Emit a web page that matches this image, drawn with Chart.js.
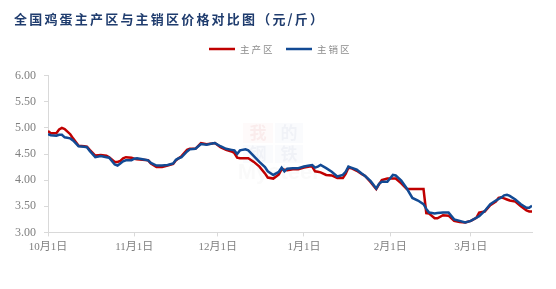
<!DOCTYPE html>
<html>
<head>
<meta charset="utf-8">
<script src="https://cdn.jsdelivr.net/npm/chart.js@4.4.1/dist/chart.umd.min.js"></script>
<style>
  html, body { margin: 0; padding: 0; background: #ffffff; }
  #wrap { width: 556px; height: 289px; position: relative; }
</style>
</head>
<body>
<div id="wrap"><canvas id="priceChart" width="556" height="289"></canvas></div>
<script>
// Day offsets from 2023-10-01 (daily egg prices, yuan/jin)
const days = [0, 1, 3, 4, 5, 6, 8, 9, 11, 13, 14, 15, 17, 19, 21, 22, 24, 25, 26, 27, 28, 30, 31, 32, 34, 36, 37, 39, 41, 43, 45, 46, 47, 48, 50, 51, 53, 55, 57, 59, 60, 62, 64, 66, 67, 68, 69, 71, 72, 74, 76, 78, 79, 81, 83, 84, 85, 86, 88, 90, 92, 94, 95, 96, 97, 98, 100, 102, 104, 106, 107, 108, 109, 111, 113, 114, 116, 118, 119, 120, 122, 124, 125, 127, 129, 131, 133, 135, 136, 137, 139, 140, 142, 144, 146, 148, 150, 152, 154, 155, 157, 159, 161, 162, 163, 164, 165, 166, 168, 170, 172, 173, 174];

// 主产区
const producingPrices = [4.94, 4.90, 4.90, 4.97, 5.00, 4.98, 4.88, 4.80, 4.66, 4.65, 4.64, 4.58, 4.47, 4.48, 4.47, 4.44, 4.35, 4.35, 4.37, 4.42, 4.44, 4.43, 4.41, 4.40, 4.39, 4.38, 4.32, 4.25, 4.25, 4.28, 4.31, 4.38, 4.42, 4.46, 4.58, 4.60, 4.60, 4.71, 4.69, 4.70, 4.71, 4.63, 4.58, 4.55, 4.52, 4.43, 4.42, 4.42, 4.42, 4.35, 4.26, 4.13, 4.05, 4.03, 4.11, 4.21, 4.20, 4.19, 4.21, 4.21, 4.24, 4.26, 4.26, 4.17, 4.16, 4.15, 4.10, 4.09, 4.04, 4.04, 4.12, 4.24, 4.23, 4.18, 4.11, 4.08, 3.96, 3.83, 3.92, 4.00, 4.03, 4.03, 4.03, 3.94, 3.83, 3.83, 3.83, 3.83, 3.37, 3.36, 3.27, 3.27, 3.33, 3.32, 3.22, 3.20, 3.19, 3.22, 3.28, 3.38, 3.40, 3.52, 3.59, 3.66, 3.67, 3.65, 3.63, 3.61, 3.59, 3.50, 3.42, 3.40, 3.40];

// 主销区
const sellingPrices = [4.88, 4.86, 4.85, 4.87, 4.87, 4.82, 4.80, 4.76, 4.65, 4.64, 4.63, 4.56, 4.44, 4.46, 4.44, 4.43, 4.30, 4.28, 4.32, 4.36, 4.38, 4.38, 4.41, 4.42, 4.40, 4.38, 4.33, 4.28, 4.28, 4.29, 4.32, 4.39, 4.42, 4.44, 4.55, 4.59, 4.60, 4.69, 4.68, 4.70, 4.71, 4.65, 4.60, 4.58, 4.57, 4.50, 4.57, 4.59, 4.57, 4.46, 4.35, 4.25, 4.17, 4.10, 4.16, 4.24, 4.17, 4.22, 4.23, 4.23, 4.26, 4.28, 4.29, 4.24, 4.26, 4.29, 4.23, 4.16, 4.07, 4.10, 4.16, 4.26, 4.24, 4.20, 4.12, 4.08, 3.98, 3.84, 3.93, 3.97, 3.97, 4.10, 4.09, 3.99, 3.84, 3.66, 3.61, 3.54, 3.45, 3.38, 3.36, 3.37, 3.38, 3.38, 3.25, 3.22, 3.19, 3.22, 3.28, 3.31, 3.41, 3.54, 3.61, 3.64, 3.67, 3.71, 3.72, 3.70, 3.63, 3.54, 3.47, 3.47, 3.51];

const monthTicks = [0, 31, 61, 92, 123, 152];
const monthLabels = ['10月1日', '11月1日', '12月1日', '1月1日', '2月1日', '3月1日'];

const seriesNames = ['主产区', '主销区'];
const seriesColors = ['#C00000', '#124A94'];
const titleText = '全国鸡蛋主产区与主销区价格对比图（元/斤）';

const toPoints = (vals) => days.map((d, i) => ({ x: d, y: vals[i] }));

// title, legend and the faint watermark are painted by hand
const headerPlugin = {
    id: 'header',
    beforeDatasetsDraw(chart) {
        const ctx = chart.ctx;
        ctx.save();
        ctx.fillStyle = 'rgba(230, 150, 150, 0.05)';
        ctx.fillRect(243, 123, 30, 20);
        ctx.fillStyle = 'rgba(150, 170, 210, 0.05)';
        ctx.fillRect(275, 123, 28, 20);
        ctx.fillRect(243, 145, 30, 18);
        ctx.fillRect(275, 145, 28, 18);
        ctx.font = 'bold 17px "Noto Sans CJK SC"';
        ctx.textAlign = 'center';
        ctx.textBaseline = 'middle';
        ctx.fillStyle = 'rgba(200, 60, 60, 0.07)';
        ctx.fillText('我', 258, 133);
        ctx.fillStyle = 'rgba(60, 80, 140, 0.05)';
        ctx.fillText('的', 289, 133);
        ctx.fillText('钢', 258, 154);
        ctx.fillText('铁', 289, 154);
        ctx.font = 'bold 22px "Liberation Sans"';
        ctx.fillStyle = 'rgba(120, 120, 120, 0.035)';
        ctx.fillText('Mysteel', 278, 173);
        ctx.restore();
    },
    afterDraw(chart) {
        const ctx = chart.ctx;
        ctx.save();
        ctx.textBaseline = 'middle';
        ctx.textAlign = 'left';
        ctx.font = 'bold 13px "Noto Sans CJK SC"';
        ctx.letterSpacing = '2.2px';
        ctx.fillStyle = '#1F3C6E';
        ctx.fillText(titleText, 14, 19.5);

        // legend
        const items = [
            { name: seriesNames[0], color: seriesColors[0], x: 209 },
            { name: seriesNames[1], color: seriesColors[1], x: 286 }
        ];
        ctx.font = '9.5px "Noto Sans CJK SC"';
        ctx.letterSpacing = '2px';
        items.forEach(item => {
            ctx.strokeStyle = item.color;
            ctx.lineWidth = 2.5;
            ctx.beginPath();
            ctx.moveTo(item.x, 49);
            ctx.lineTo(item.x + 26, 49);
            ctx.stroke();
            ctx.fillStyle = '#8c8c8c';
            ctx.fillText(item.name, item.x + 31, 49);
        });
        ctx.restore();
    }
};

const ctx = document.getElementById('priceChart').getContext('2d');

new Chart(ctx, {
    type: 'line',
    data: {
        // 主销区 first so it is painted on top, legend is drawn by the plugin
        datasets: [
            {
                label: seriesNames[1],
                data: toPoints(sellingPrices),
                borderColor: seriesColors[1],
                borderWidth: 2.5,
                pointRadius: 0,
                tension: 0,
                fill: false
            },
            {
                label: seriesNames[0],
                data: toPoints(producingPrices),
                borderColor: seriesColors[0],
                borderWidth: 2.5,
                pointRadius: 0,
                tension: 0,
                fill: false
            }
        ]
    },
    options: {
        responsive: false,
        animation: false,
        layout: {
            padding: { top: 75.7, right: 24, bottom: 0, left: 0 }
        },
        plugins: {
            legend: { display: false },
            title: { display: false },
            tooltip: { enabled: false }
        },
        scales: {
            x: {
                type: 'linear',
                min: 0,
                max: 174,
                afterFit(scale) { scale.height = 289 - 232.4; },
                afterBuildTicks(scale) {
                    scale.ticks = monthTicks.map(v => ({ value: v }));
                },
                border: { color: '#d9d9d9', width: 1 },
                grid: {
                    drawOnChartArea: false,
                    drawTicks: true,
                    tickLength: 4,
                    color: '#d9d9d9'
                },
                ticks: {
                    autoSkip: false,
                    maxRotation: 0,
                    padding: 4,
                    color: '#808080',
                    font: { size: 11, family: '"Liberation Serif", "Noto Sans CJK SC"' },
                    callback: function(value) {
                        const i = monthTicks.indexOf(value);
                        return i >= 0 ? monthLabels[i] : '';
                    }
                }
            },
            y: {
                min: 3,
                max: 6,
                afterFit(scale) { scale.width = 48; },
                border: { color: '#d9d9d9', width: 1 },
                grid: {
                    drawOnChartArea: false,
                    drawTicks: true,
                    tickLength: 4,
                    color: '#d9d9d9'
                },
                ticks: {
                    stepSize: 0.5,
                    padding: 8,
                    color: '#808080',
                    font: { size: 12, family: '"Liberation Serif"' },
                    callback: function(value) { return value.toFixed(2); }
                }
            }
        }
    },
    plugins: [headerPlugin]
});
</script>
</body>
</html>
